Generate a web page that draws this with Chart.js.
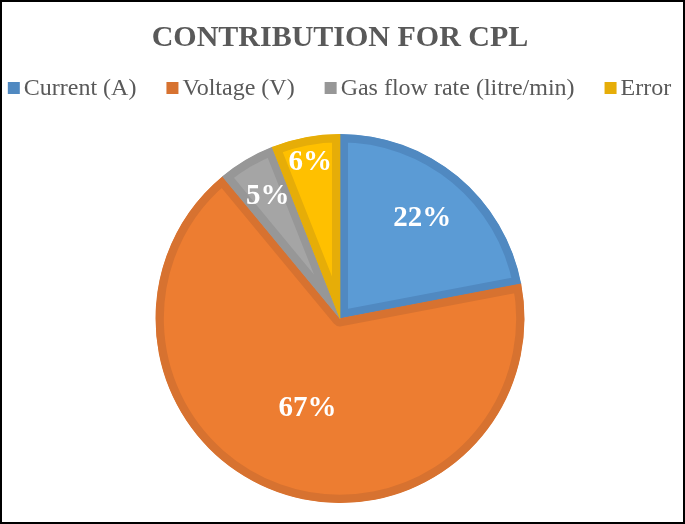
<!DOCTYPE html>
<html lang="en">
<head>
<meta charset="UTF-8">
<title>Contribution for CPL</title>
<script src="https://cdn.jsdelivr.net/npm/chart.js"></script>
<style>
    html, body { margin: 0; padding: 0; background: #fff; }
    .frame {
        width: 681px;
        height: 520px;
        border: 2px solid #000;
        position: relative;
    }
</style>
</head>
<body>
<div class="frame">
    <canvas id="cplChart" width="681" height="520"></canvas>
</div>

<script>
    const categories = ['Current (A)', 'Voltage (V)', 'Gas flow rate (litre/min)', 'Error'];
    const contribution = [22, 67, 5, 6];

    const fillColors = ['#5B9BD5', '#ED7D31', '#A5A5A5', '#FFC000'];
    const edgeColors = ['#5089C1', '#D77230', '#979797', '#E6AD08'];

    // where each percent label sits, as a share of the radius
    const labelRadius = [0.70, 0.52, 0.77, 0.86];

    const serif = '"Liberation Serif", "Times New Roman", serif';

    const percentLabels = {
        id: 'percentLabels',
        afterDatasetsDraw(chart) {
            const c = chart.ctx;
            const arcs = chart.getDatasetMeta(0).data;
            c.save();
            c.fillStyle = '#ffffff';
            c.font = 'bold 29px ' + serif;
            c.textAlign = 'center';
            c.textBaseline = 'middle';
            arcs.forEach((arc, i) => {
                const p = arc.getProps(['x', 'y', 'startAngle', 'endAngle', 'outerRadius'], true);
                const mid = (p.startAngle + p.endAngle) / 2;
                const r = p.outerRadius * labelRadius[i];
                c.fillText(contribution[i] + '%', p.x + Math.cos(mid) * r, p.y + Math.sin(mid) * r);
            });
            c.restore();
        }
    };

    // one-line legend, small square right next to its text
    const lineLegend = {
        id: 'lineLegend',
        afterDraw(chart) {
            const c = chart.ctx;
            const box = 12, gapText = 4, gapItem = 30, y = 86;
            c.save();
            c.font = '24px ' + serif;
            c.textBaseline = 'middle';
            const widths = categories.map(t => box + gapText + c.measureText(t).width);
            const total = widths.reduce((a, b) => a + b, 0) + gapItem * (categories.length - 1);
            let x = (chart.width - total) / 2 - 3;
            categories.forEach((name, i) => {
                c.fillStyle = edgeColors[i];
                c.fillRect(x, y - box / 2, box, box);
                c.fillStyle = '#595959';
                c.fillText(name, x + box + gapText, y + 1);
                x += widths[i] + gapItem;
            });
            c.restore();
        }
    };

    new Chart(document.getElementById('cplChart'), {
        type: 'pie',
        data: {
            labels: categories,
            datasets: [{
                data: contribution,
                backgroundColor: fillColors,
                borderColor: edgeColors,
                borderWidth: 8,
                borderAlign: 'inner'
            }]
        },
        options: {
            responsive: false,
            animation: false,
            layout: { padding: { top: 0, bottom: 19, right: 5 } },
            plugins: {
                title: {
                    display: true,
                    text: 'CONTRIBUTION FOR CPL',
                    color: '#595959',
                    font: { family: serif, size: 30, weight: 'bold' },
                    padding: { top: 18, bottom: 78 }
                },
                legend: { display: false },
                tooltip: { enabled: false }
            }
        },
        plugins: [percentLabels, lineLegend]
    });
</script>
</body>
</html>
